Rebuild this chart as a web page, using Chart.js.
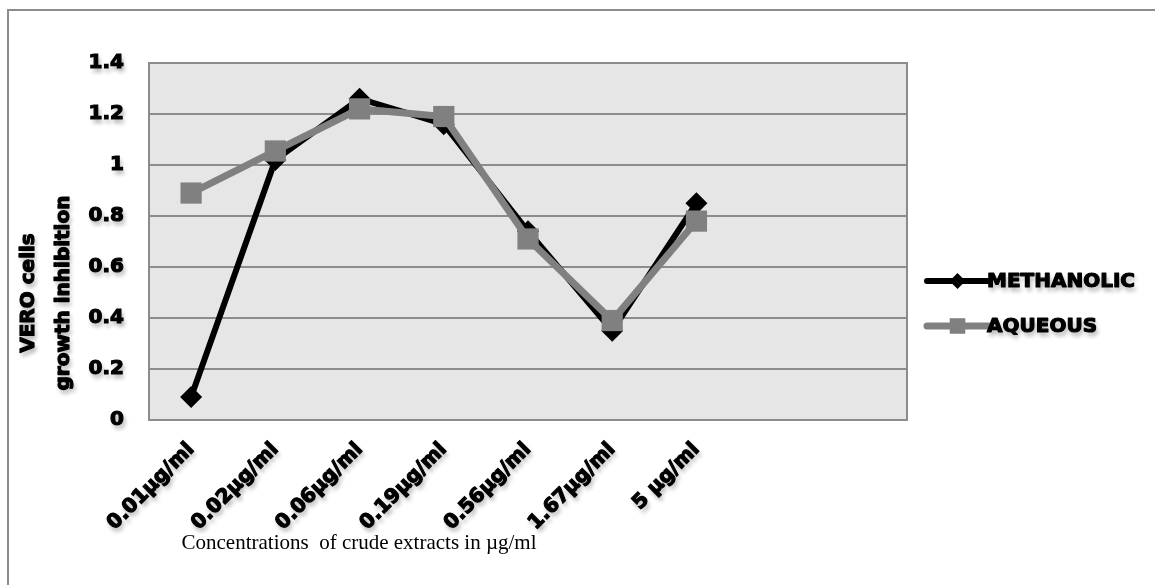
<!DOCTYPE html>
<html>
<head>
<meta charset="utf-8">
<script src="https://cdn.jsdelivr.net/npm/chart.js@4.4.1/dist/chart.umd.min.js"></script>
<style>
  html, body { margin: 0; padding: 0; background: #ffffff; }
  #wrap { width: 1155px; height: 585px; position: relative; }
</style>
</head>
<body>
<div id="wrap"><canvas id="c" width="1155" height="585"></canvas></div>
<script>
// Concentrations tested (two trailing empty slots keep the axis wide)
const concentrations = ['0.01µg/ml', '0.02µg/ml', '0.06µg/ml', '0.19µg/ml', '0.56µg/ml', '1.67µg/ml', '5 µg/ml', '', ''];
// Growth inhibition of VERO cells
const methanolic = [0.09, 1.02, 1.26, 1.16, 0.74, 0.35, 0.85];
const aqueous    = [0.89, 1.055, 1.22, 1.19, 0.71, 0.39, 0.78];
const yTicks = [0, 0.2, 0.4, 0.6, 0.8, 1, 1.2, 1.4];

const yTitleLines = ['VERO cells', 'growth inhibition'];
const xTitle = 'Concentrations  of crude extracts in µg/ml';

const BOLD = 'DejaVu Sans';

// Soft drop shadow under filled text (labels, ticks, legend)
const shadowPlugin = {
  id: 'textShadow',
  beforeInit(chart) {
    const ctx = chart.ctx;
    const plainFill = ctx.fillText.bind(ctx);
    ctx.plainFillText = plainFill;
    ctx.fillText = function (text, x, y, maxWidth) {
      this.save();
      this.shadowColor = 'rgba(0,0,0,0.32)';
      this.shadowBlur = 4;
      this.shadowOffsetX = 2;
      this.shadowOffsetY = 4;
      if (maxWidth === undefined) plainFill(text, x, y); else plainFill(text, x, y, maxWidth);
      this.restore();
    };
  }
};

// Plot background, plot frame and the outer frame lines
const framePlugin = {
  id: 'frame',
  beforeDraw(chart) {
    const { ctx, chartArea: a } = chart;
    ctx.save();
    ctx.fillStyle = '#ffffff';
    ctx.fillRect(0, 0, chart.width, chart.height);
    ctx.strokeStyle = '#8c8c8c';
    ctx.lineWidth = 2;
    ctx.beginPath();
    ctx.moveTo(8, chart.height);
    ctx.lineTo(8, 10);
    ctx.lineTo(chart.width, 10);
    ctx.stroke();
    ctx.fillStyle = '#e6e6e6';
    ctx.fillRect(a.left, a.top, a.right - a.left, a.bottom - a.top);
    ctx.restore();
  },
  beforeDatasetsDraw(chart) {
    const { ctx, chartArea: a } = chart;
    ctx.save();
    ctx.strokeStyle = '#8c8c8c';
    ctx.lineWidth = 2;
    ctx.strokeRect(a.left, a.top, a.right - a.left, a.bottom - a.top);
    ctx.restore();
  }
};

function heavyText(ctx, text, x, y) {
  ctx.strokeText(text, x, y);
  ctx.fillText(text, x, y);
}

// Axis titles and a line-with-marker legend at the right
const textPlugin = {
  id: 'texts',
  afterDraw(chart) {
    const { ctx, chartArea: a } = chart;
    ctx.save();
    // y title, two centred lines rotated
    ctx.translate(47, 293);
    ctx.rotate(-Math.PI / 2);
    ctx.fillStyle = '#000000';
    ctx.strokeStyle = '#000000';
    ctx.lineWidth = 1.2;
    ctx.lineJoin = 'round';
    ctx.font = 'bold 20px "' + BOLD + '"';
    ctx.textAlign = 'center';
    ctx.textBaseline = 'middle';
    heavyText(ctx, yTitleLines[0], 0, -18);
    heavyText(ctx, yTitleLines[1], 0, 17);
    ctx.restore();

    ctx.save();
    ctx.fillStyle = '#000000';
    ctx.font = '21px "Liberation Serif"';
    ctx.textAlign = 'center';
    ctx.textBaseline = 'alphabetic';
    ctx.plainFillText(xTitle, 359, 549);
    ctx.restore();

    // legend
    ctx.save();
    const x0 = a.right + 20, x1 = a.right + 81;
    chart.data.datasets.forEach((ds, i) => {
      const y = a.top + 218 + i * 45;
      ctx.strokeStyle = ds.borderColor;
      ctx.lineWidth = ds.borderWidth;
      ctx.lineCap = 'round';
      ctx.beginPath();
      ctx.moveTo(x0, y);
      ctx.lineTo(x1, y);
      ctx.stroke();
      ctx.fillStyle = ds.pointBackgroundColor;
      Chart.helpers.drawPoint(ctx, {
        pointStyle: ds.pointStyle,
        radius: ds.legendRadius,
        borderWidth: 0,
        rotation: 0
      }, (x0 + x1) / 2, y);
      ctx.fillStyle = '#000000';
      ctx.strokeStyle = '#000000';
      ctx.lineWidth = 1.2;
      ctx.lineJoin = 'round';
      ctx.font = 'bold 20px "' + BOLD + '"';
      ctx.textAlign = 'left';
      ctx.textBaseline = 'middle';
      heavyText(ctx, ds.label, x1 - 1, y + 1);
    });
    ctx.restore();
  }
};

const tickFont = { family: BOLD, weight: 'bold', size: 20 };

new Chart(document.getElementById('c'), {
  type: 'line',
  data: {
    labels: concentrations,
    datasets: [
      {
        label: 'METHANOLIC',
        data: methanolic,
        borderColor: '#000000',
        backgroundColor: '#000000',
        pointBackgroundColor: '#000000',
        pointBorderColor: '#000000',
        borderWidth: 6,
        pointStyle: 'rectRot',
        pointRadius: 11,
        pointBorderWidth: 0,
        legendRadius: 8,
        tension: 0,
        order: 2
      },
      {
        label: 'AQUEOUS',
        data: aqueous,
        borderColor: '#808080',
        backgroundColor: '#808080',
        pointBackgroundColor: '#808080',
        pointBorderColor: '#808080',
        borderWidth: 7,
        pointStyle: 'rect',
        pointRadius: 15,
        pointBorderWidth: 0,
        legendRadius: 11,
        tension: 0,
        order: 1
      }
    ]
  },
  options: {
    responsive: false,
    animation: false,
    layout: { padding: { left: 0, top: 63, right: 248, bottom: 0 } },
    plugins: {
      legend: { display: false },
      tooltip: { enabled: false }
    },
    scales: {
      x: {
        offset: true,
        grid: { display: false, drawTicks: false },
        border: { display: false },
        ticks: {
          autoSkip: false,
          minRotation: 45,
          maxRotation: 45,
          padding: 18,
          color: '#000000',
          textStrokeColor: '#000000',
          textStrokeWidth: 1.2,
          font: tickFont
        },
        afterFit(scale) { scale.height = 165; }
      },
      y: {
        min: 0,
        max: 1.4,
        afterBuildTicks(scale) { scale.ticks = yTicks.map(v => ({ value: v })); },
        grid: { color: '#8c8c8c', lineWidth: 2, drawTicks: false },
        border: { display: false },
        ticks: {
          padding: 25,
          color: '#000000',
          textStrokeColor: '#000000',
          textStrokeWidth: 1.2,
          font: tickFont,
          callback: v => String(v)
        },
        afterFit(scale) { scale.width = 149; }
      }
    }
  },
  plugins: [shadowPlugin, framePlugin, textPlugin]
});
</script>
</body>
</html>
